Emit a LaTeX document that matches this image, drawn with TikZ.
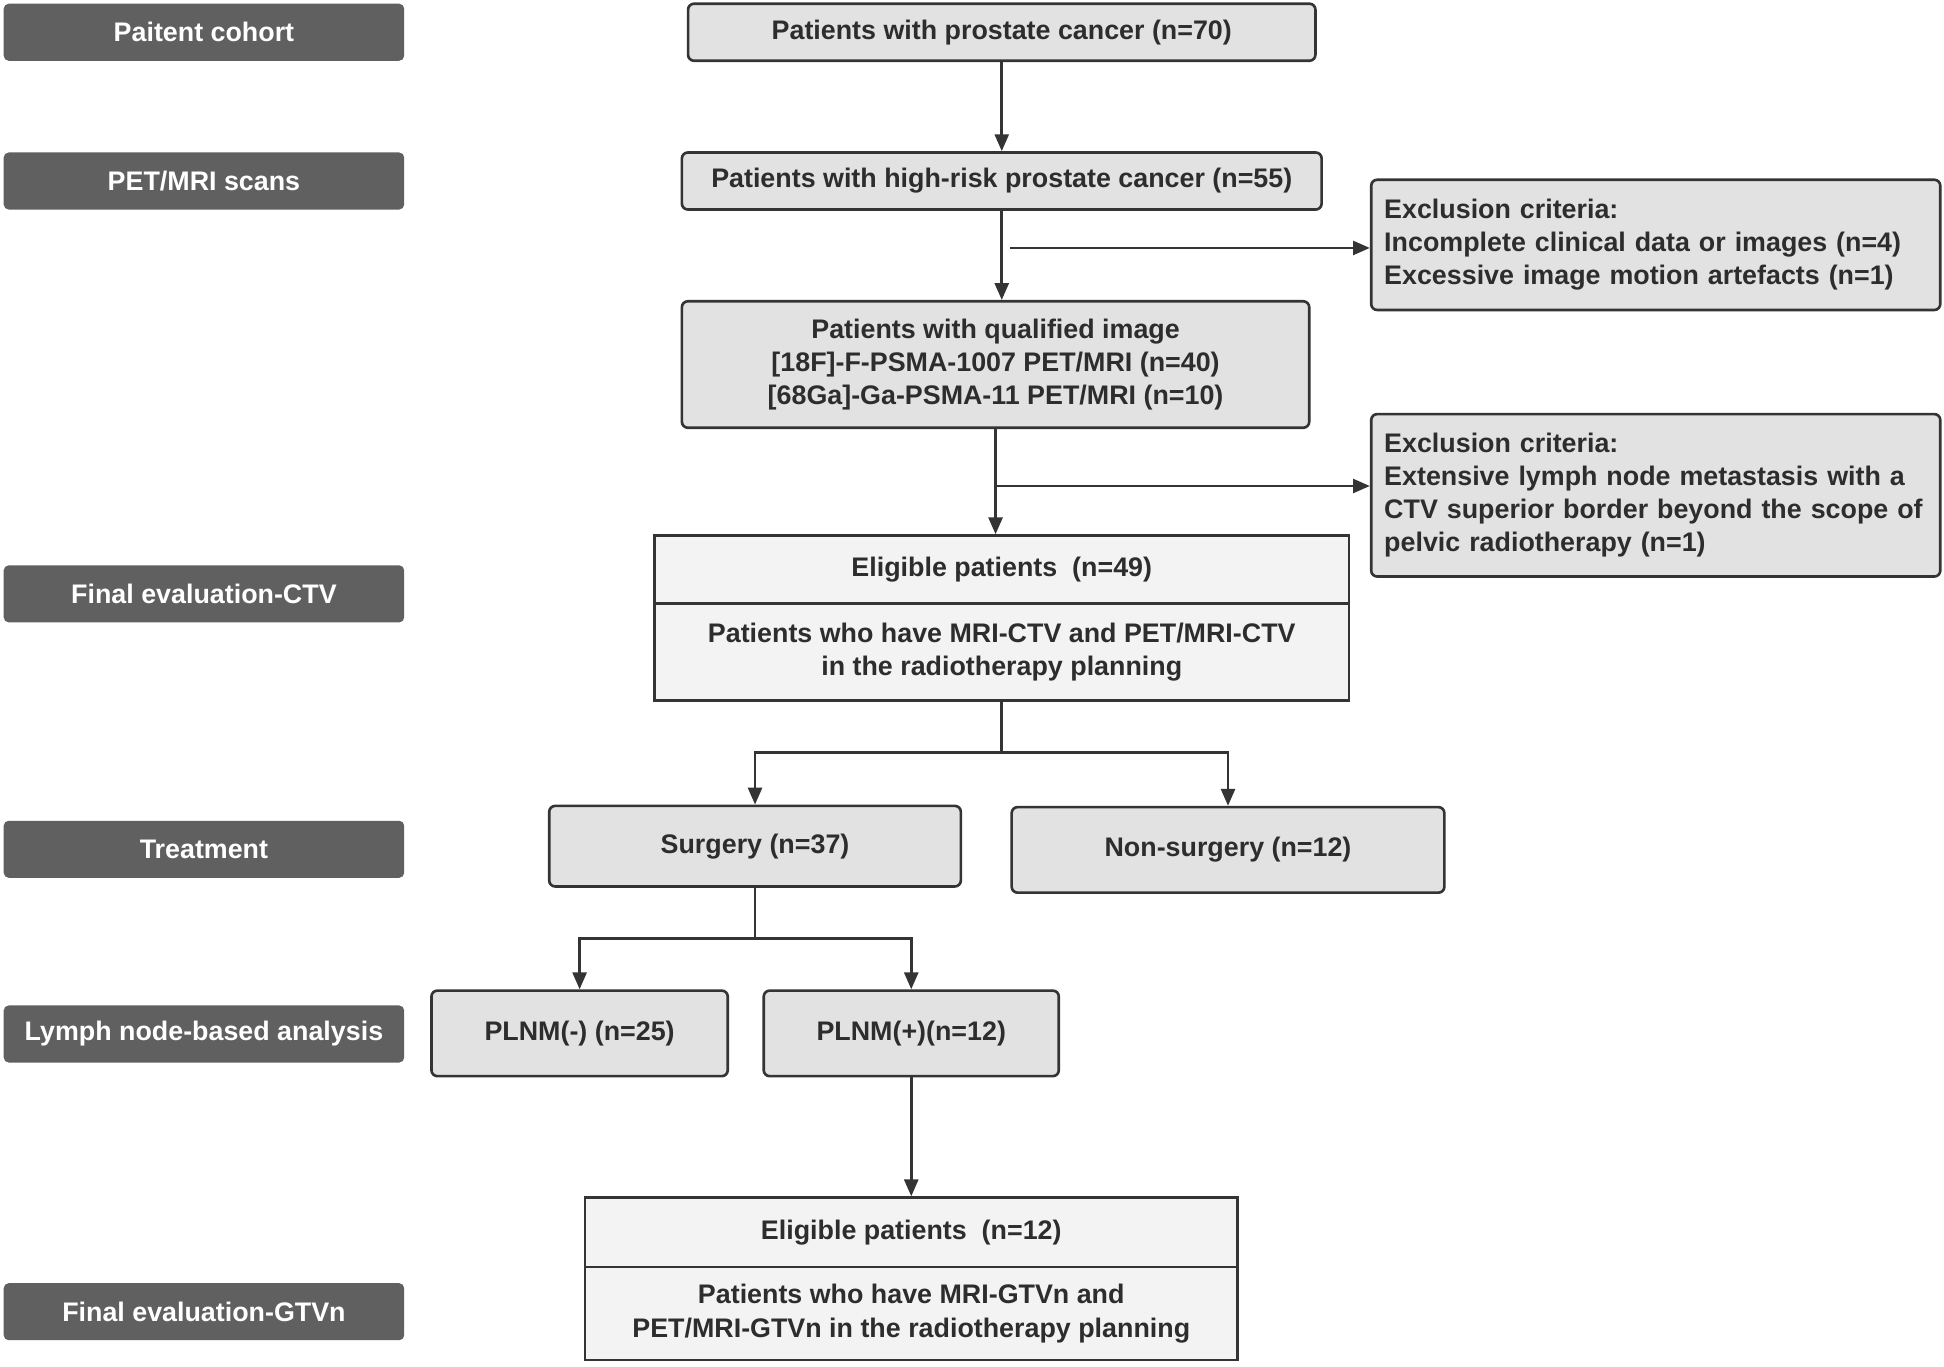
\documentclass[tikz,border=0pt]{standalone}
\usepackage{fontspec}
\setmainfont{Liberation Sans}
\usepackage{tikz}
\usetikzlibrary{arrows.meta,positioning}
\usepackage{xcolor}
\definecolor{dfdark}{RGB}{96,96,96}
\definecolor{dfline}{RGB}{52,52,52}
\definecolor{dfbox}{RGB}{226,226,226}
\definecolor{dflight}{RGB}{243,243,243}
\definecolor{dftext}{RGB}{45,45,45}
\tikzstyle{arrow} = [line width=1.6pt,->,>={Triangle[length=3.4mm,width=2.8mm]},color=dfline]
\tikzstyle{line} = [line width=1.6pt,color=dfline]

\begin{document}
\begin{tikzpicture}[x=0.25mm, y=-0.25mm,
    stage/.style={rectangle, rounded corners=1mm, fill=dfdark, text=white, minimum width=80.75mm, minimum height=11.5mm, font=\bfseries\fontsize{15.4}{19}\selectfont},
    flow/.style={rectangle, rounded corners=1.2mm, draw=dfline, line width=1.5pt, fill=dfbox, text=dftext, align=center, inner sep=0pt, font=\bfseries\fontsize{15.4}{19}\selectfont},
    excl/.style={flow, align=left, text width=109.5mm, minimum width=114.75mm},
    split/.style={rectangle, draw=dfline, line width=1.5pt, fill=dflight, text=dftext, align=center, inner sep=0pt, font=\bfseries\fontsize{15.4}{19}\selectfont}]

\useasboundingbox[fill=white] (0,0) rectangle (1568,1102);

% Stage labels
\node[stage] (cohort) at (164.5,26) {Paitent cohort};
\node[stage] (scans) at (164.5,146) {PET/MRI scans};
\node[stage] (evalctv) at (164.5,479) {Final evaluation-CTV};
\node[stage] (treat) at (164.5,685) {Treatment};
\node[stage] (lymph) at (164.5,834) {Lymph node-based analysis};
\node[stage] (evalgtv) at (164.5,1058) {Final evaluation-GTVn};

% Main flow
\node[flow, minimum width=126.5mm, minimum height=11.5mm] (allpat) at (808,26) {Patients with prostate cancer (n=70)};
\node[flow, minimum width=129mm, minimum height=11.5mm] (highrisk) at (808,146) {Patients with high-risk prostate cancer (n=55)};
\node[flow, minimum width=126.5mm, minimum height=25.5mm] (qualified) at (803,294) {Patients with qualified image\\{}[18F]-F-PSMA-1007 PET/MRI (n=40)\\{}[68Ga]-Ga-PSMA-11 PET/MRI (n=10)};
\node[split, minimum width=140mm, minimum height=13.75mm] (eligctv) at (808,459.5) {Eligible patients~ (n=49)};
\node[split, minimum width=140mm, minimum height=19.5mm] (planctv) at (808,526) {Patients who have MRI-CTV and PET/MRI-CTV\\in the radiotherapy planning};

% Exclusions
\node[excl, minimum height=26.25mm] (excla) at (1335.5,197.5) {Exclusion criteria:\\Incomplete clinical data or images (n=4)\\Excessive image motion artefacts (n=1)};
\node[excl, minimum height=32.75mm] (exclb) at (1335.5,399.5) {Exclusion criteria:\\Extensive lymph node metastasis with a\\CTV superior border beyond the scope of\\pelvic radiotherapy (n=1)};

% Treatment and analysis
\node[flow, minimum width=83mm, minimum height=16.25mm] (surgery) at (609,682.5) {Surgery (n=37)};
\node[flow, minimum width=87.25mm, minimum height=17.25mm] (nonsurgery) at (990.5,685.5) {Non-surgery (n=12)};
\node[flow, minimum width=59.75mm, minimum height=17.25mm] (plnmneg) at (467.5,833.5) {PLNM(-) (n=25)};
\node[flow, minimum width=59.5mm, minimum height=17.25mm] (plnmpos) at (735,833.5) {PLNM(+)(n=12)};
\node[split, minimum width=131.5mm, minimum height=14mm] (eliggtv) at (735,994) {Eligible patients~ (n=12)};
\node[split, minimum width=131.5mm, minimum height=18.75mm] (plangtv) at (735,1059.5) {Patients who have MRI-GTVn and\\PET/MRI-GTVn in the radiotherapy planning};

% Branch points
\coordinate (outa) at (815,200);
\coordinate (outb) at (803,392);
\coordinate (forka) at (808,607);
\coordinate (forkb) at (609,757);

% Connect
\draw[arrow] (allpat) -- (highrisk);
\draw[arrow] (highrisk.south) -- (highrisk.south |- qualified.north);
\draw[arrow] (outa) -- (outa -| excla.west);
\draw[arrow] (qualified.south) -- (qualified.south |- eligctv.north);
\draw[arrow] (outb) -- (outb -| exclb.west);
\draw[line] (planctv.south) -- (forka);
\draw[arrow] (forka) -| (surgery.north);
\draw[arrow] (forka) -| (nonsurgery.north);
\draw[line] (surgery.south) -- (forkb);
\draw[arrow] (forkb) -| (plnmneg.north);
\draw[arrow] (forkb) -| (plnmpos.north);
\draw[arrow] (plnmpos) -- (eliggtv);

\end{tikzpicture}
\end{document}
